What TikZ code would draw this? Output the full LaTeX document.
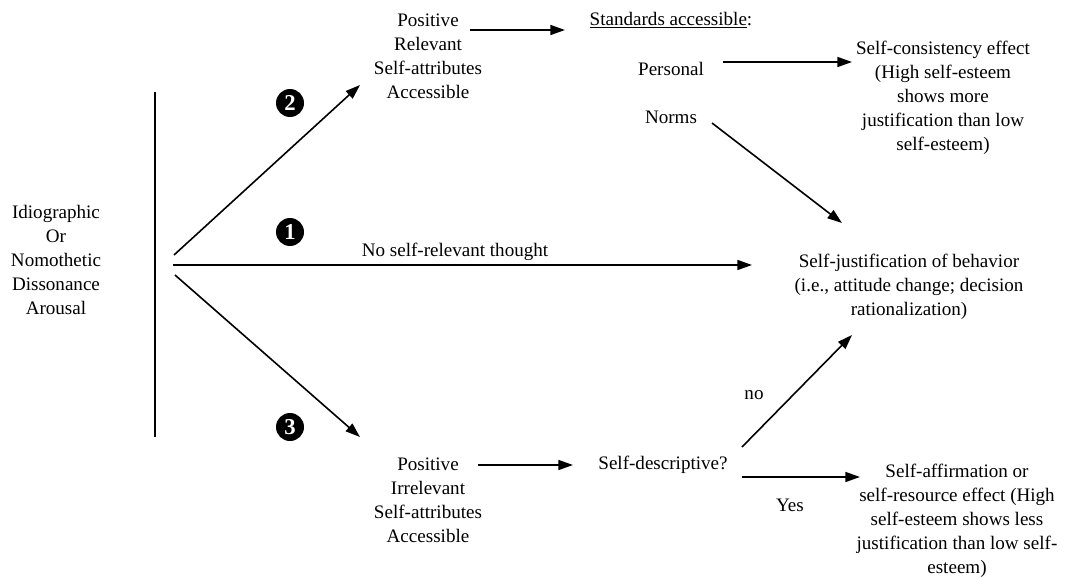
\documentclass[tikz,border=0pt]{standalone}
\usepackage{fontspec}
\setmainfont{Liberation Serif}
\usetikzlibrary{arrows.meta,positioning,calc}
\tikzset{
	>={Triangle[length=11pt,width=7.5pt]},
	txt/.style={
		align=center,
		inner sep=1pt,
		font=\fontsize{14.3}{18}\selectfont},
	line/.style={draw, line width=1.2pt, ->},
	numdot/.style={
		circle,
		fill=black,
		text=white,
		inner sep=0pt,
		minimum size=21pt,
		font=\bfseries\fontsize{17}{17}\selectfont},
}

\begin{document}
\begin{tikzpicture}
[x=0.75pt, y=-0.75pt]
\useasboundingbox (0,0) rectangle (1076,578);

% texts
\node[txt] (arousal) at (56,260) {Idiographic\\ Or\\ Nomothetic\\ Dissonance\\ Arousal};
\node[txt] (relpos) at (428,56) {Positive\\ Relevant\\ Self-attributes\\ Accessible};
\node[txt] (standards) at (671,20) {\underline{Standards accessible}:};
\node[txt] (personal) at (671,69) {Personal};
\node[txt] (norms) at (671,117) {Norms};
\node[txt] (consist) at (943,98) {Self-consistency effect\\ (High self-esteem\\ shows more\\ justification than low\\ self-esteem)};
\node[txt] (justif) at (909,287) {Self-justification of behavior\\ (i.e., attitude change; decision\\ rationalization)};
\node[txt] (irrpos) at (428,500) {Positive\\ Irrelevant\\ Self-attributes\\ Accessible};
\node[txt] (selfdesc) at (663,465) {Self-descriptive?};
\node[txt] (affirm) at (957,521) {Self-affirmation or\\ self-resource effect (High\\ self-esteem shows less\\ justification than low self-\\ esteem)};
\node[txt] (thought) at (455,252) {No self-relevant thought};
\node[txt] (nolbl) at (754,395) {no};
\node[txt] (yeslbl) at (790,505) {Yes};

\node[numdot] (one) at (290,232) {1};
\node[numdot] (two) at (290,103) {2};
\node[numdot] (three) at (290,427) {3};

% arrow ends
\coordinate (bartop) at (155,92);
\coordinate (barbot) at (155,437);
\coordinate (srcup) at (174,255);
\coordinate (srcmid) at (173,265);
\coordinate (srcdown) at (175,275);
\coordinate (endup) at (360,85);
\coordinate (endmid) at (752,265);
\coordinate (enddown) at (360,437);
\coordinate (relout) at (470,30);
\coordinate (stdin) at (565,30);
\coordinate (perout) at (723,62);
\coordinate (conin) at (852,62);
\coordinate (normout) at (712,123);
\coordinate (justin) at (842,223);
\coordinate (irrout) at (478,465);
\coordinate (descin) at (573,465);
\coordinate (noout) at (742,447);
\coordinate (noin) at (852,335);
\coordinate (yesout) at (742,477);
\coordinate (yesin) at (860,477);

\draw[line width=1.2pt] (bartop) -- (barbot);
\draw[line] (srcup) -- (endup);
\draw[line] (srcmid) -- (endmid);
\draw[line] (srcdown) -- (enddown);
\draw[line] (relout) -- (stdin);
\draw[line] (perout) -- (conin);
\draw[line] (normout) -- (justin);
\draw[line] (irrout) -- (descin);
\draw[line] (noout) -- (noin);
\draw[line] (yesout) -- (yesin);
\end{tikzpicture}
\end{document}
